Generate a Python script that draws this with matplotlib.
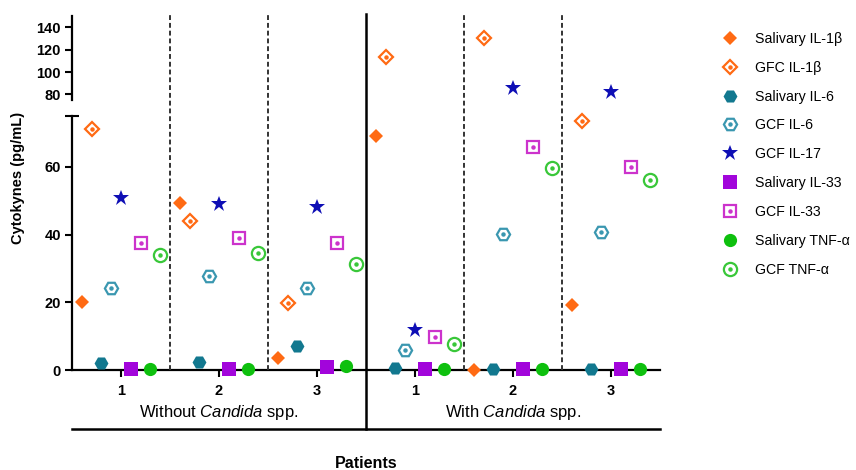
import numpy as np
import matplotlib
matplotlib.use("Agg")
import matplotlib.pyplot as plt
from matplotlib.lines import Line2D
from matplotlib.legend_handler import HandlerTuple
from matplotlib import transforms

plt.rcParams['font.family'] = ['Liberation Sans', 'DejaVu Sans']
plt.rcParams['mathtext.fontset'] = 'custom'
plt.rcParams['mathtext.rm'] = 'Liberation Sans'
plt.rcParams['mathtext.it'] = 'Liberation Sans:italic'

# patients (3 without Candida, 3 with Candida)
patients = [1, 2, 3, 4, 5, 6]
tick_labels = ["1", "2", "3", "1", "2", "3"]

# cytokine values (pg/mL)
sal_il1b = [20.1, 49.3, 3.5, 69.1, 0.0, 19.3]
gfc_il1b = [71.2, 44.0, 19.8, 113.7, 130.1, 73.6]
sal_il6 = [2.0, 2.3, 7.0, 0.5, 0.2, 0.2]
gcf_il6 = [24.3, 27.7, 24.3, 6.0, 40.3, 40.8]
gcf_il17 = [50.8, 48.9, 48.2, 11.7, 85.4, 82.3]
sal_il33 = [0.3, 0.3, 1.0, 0.3, 0.3, 0.3]
gcf_il33 = [37.5, 39.0, 37.5, 9.7, 65.8, 60.0]
sal_tnf = [0.3, 0.3, 1.3, 0.4, 0.3, 0.3]
gcf_tnf = [34.0, 34.6, 31.2, 7.8, 59.5, 56.1]

names = ["Salivary IL-1β", "GFC IL-1β", "Salivary IL-6", "GCF IL-6", "GCF IL-17",
         "Salivary IL-33", "GCF IL-33", "Salivary TNF-α", "GCF TNF-α"]
series = [sal_il1b, gfc_il1b, sal_il6, gcf_il6, gcf_il17, sal_il33, gcf_il33, sal_tnf, gcf_tnf]

# marker, colour, size, filled, center dot
styles = [
    ("D", "#ff6a13", 7.0, True, False),
    ("D", "#ff6a13", 7.5, False, True),
    ("H", "#12788f", 10, True, False),
    ("H", "#3a97b0", 9.5, False, True),
    ("*", "#0e0eb5", 12, True, False),
    ("s", "#a205db", 10, True, False),
    ("s", "#cc33cc", 9, False, True),
    ("o", "#0ec00e", 9.5, True, False),
    ("o", "#39c739", 9.5, False, True),
]

BREAK = 75
fig = plt.figure(figsize=(8.56, 4.70), dpi=100)
left, width = 72 / 856, 588 / 856
ax_hi = fig.add_axes([left, 1 - 100 / 470, width, 84 / 470])
ax_lo = fig.add_axes([left, 1 - 370 / 470, width, 254 / 470])

x = np.array(patients, dtype=float)
offsets = (np.arange(len(series)) - 4) * 0.1

handles = []
for i, (vals, st) in enumerate(zip(series, styles)):
    m, c, ms, filled, dot = st
    v = np.array(vals)
    xs = x + offsets[i]
    kw = dict(linestyle="none", marker=m, markersize=ms, clip_on=False, zorder=4)
    if filled:
        kw.update(color=c, markeredgewidth=0)
    else:
        kw.update(markerfacecolor="white", markeredgecolor=c, markeredgewidth=1.6)
    for ax, mask in ((ax_lo, v <= BREAK), (ax_hi, v > BREAK)):
        if mask.any():
            ax.plot(xs[mask], v[mask], **kw)
            if dot:
                ax.plot(xs[mask], v[mask], linestyle="none", marker="o", markersize=2.2,
                        color=c, clip_on=False, zorder=5)
    h = Line2D([], [], **kw)
    if dot:
        h = (h, Line2D([], [], linestyle="none", marker="o", markersize=2.2, color=c))
    handles.append(h)

for ax in (ax_lo, ax_hi):
    ax.set_xlim(0.5, 6.5)
    for s in ("top", "right"):
        ax.spines[s].set_visible(False)
    ax.spines["left"].set_linewidth(1.6)
    ax.tick_params(axis="y", length=5, width=1.5, labelsize=10.5, pad=3)
    for lab in ax.get_yticklabels():
        lab.set_fontweight("bold")

ax_lo.set_ylim(0, BREAK)
ax_lo.set_yticks([0, 20, 40, 60])
ax_lo.set_yticks([BREAK], minor=True)
ax_lo.tick_params(axis="y", which="minor", direction="inout", length=10, width=1.5)
ax_lo.spines["bottom"].set_linewidth(1.6)
ax_lo.set_xticks(patients)
ax_lo.set_xticklabels(tick_labels, fontweight="bold", fontsize=10.5)
ax_lo.tick_params(axis="x", length=5, width=1.5, pad=5)
for lab in ax_lo.get_yticklabels():
    lab.set_fontweight("bold")

ax_hi.set_ylim(BREAK, 150)
ax_hi.set_yticks([80, 100, 120, 140])
ax_hi.spines["bottom"].set_visible(False)
ax_hi.set_xticks([])
for lab in ax_hi.get_yticklabels():
    lab.set_fontweight("bold")

# separators spanning both axes
tr = transforms.blended_transform_factory(ax_lo.transData, fig.transFigure)
top_y = 1 - 14 / 470
axis_y = 1 - 370 / 470
bottom_y = 1 - 429 / 470
for xd in (1.5, 2.5, 4.5, 5.5):
    fig.add_artist(Line2D([xd, xd], [axis_y, top_y], transform=tr, color="#333333",
                          linestyle=(0, (2.5, 1.5)), linewidth=1.4))
fig.add_artist(Line2D([3.5, 3.5], [bottom_y, top_y], transform=tr, color="black", linewidth=1.8))
fig.add_artist(Line2D([0.5, 6.5], [bottom_y, bottom_y], transform=tr, color="black", linewidth=1.8))

fig.text(2, 1 - 413 / 470, r"Without $\mathit{Candida}$ spp.", transform=tr,
         ha="center", va="center", fontsize=12)
fig.text(5, 1 - 413 / 470, r"With $\mathit{Candida}$ spp.", transform=tr,
         ha="center", va="center", fontsize=12)
fig.text(3.5, 1 - 464 / 470, "Patients", transform=tr, ha="center", va="center",
         fontsize=11.5, fontweight="bold")
fig.text(18 / 856, 1 - 178 / 470, "Cytokynes (pg/mL)", rotation=90, ha="center",
         va="center", fontsize=10.5, fontweight="bold")

fig.legend(handles, names, loc="upper left", bbox_to_anchor=(703 / 856, 1 - 19 / 470),
           frameon=False, fontsize=10.2, labelspacing=1.05, handlelength=2.0,
           handletextpad=0.8, handler_map={tuple: HandlerTuple(ndivide=1)})

fig.savefig("out.png", dpi=100)
